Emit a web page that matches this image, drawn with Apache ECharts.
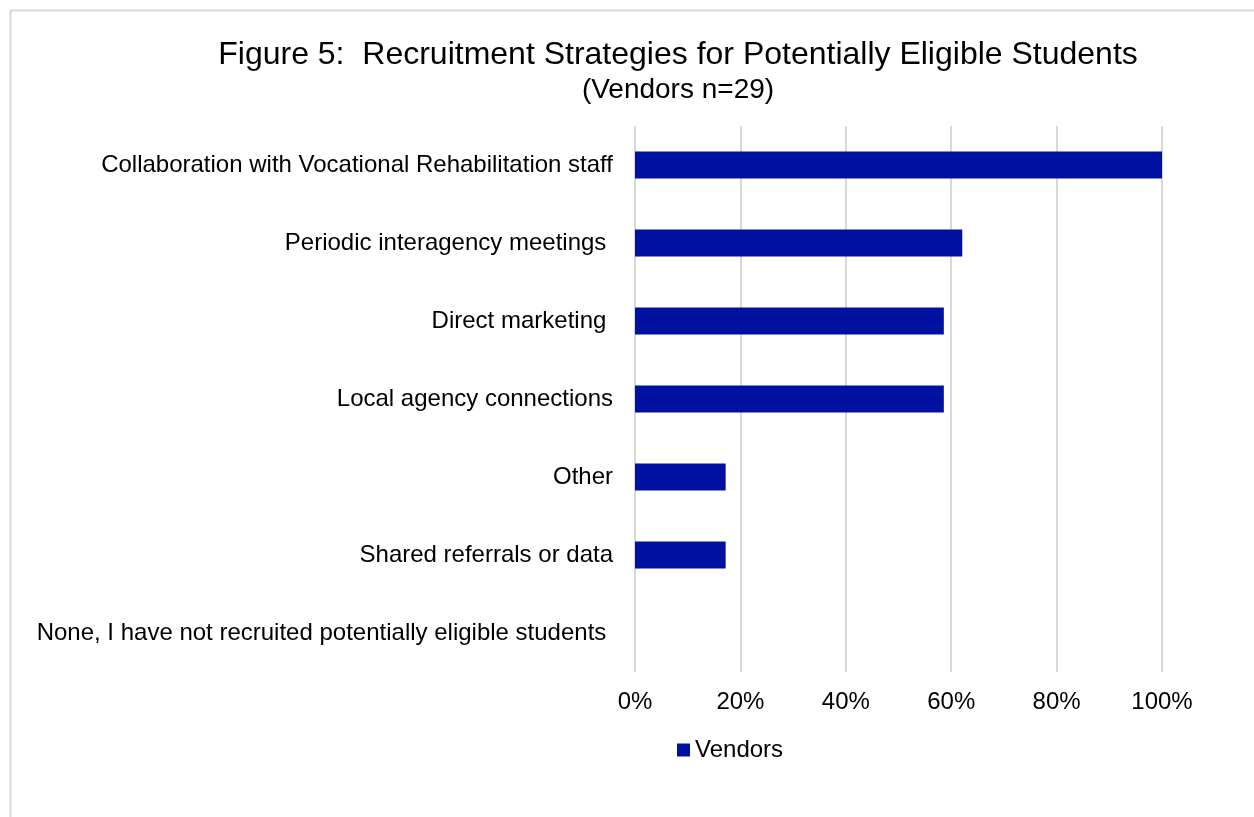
<!DOCTYPE html>
<html>
<head>
<meta charset="utf-8">
<script src="https://cdn.jsdelivr.net/npm/echarts@6/dist/echarts.min.js"></script>
<style>
  html, body { margin: 0; padding: 0; background: #fff; }
  #chart { width: 1254px; height: 817px; }
</style>
</head>
<body>
<div id="chart"></div>
<script>
// categories (top to bottom), trailing spaces kept as in the source labels
var categories = [
  'Collaboration with Vocational Rehabilitation staff',
  'Periodic interagency meetings ',
  'Direct marketing ',
  'Local agency connections',
  'Other',
  'Shared referrals or data',
  'None, I have not recruited potentially eligible students '
]
// share of vendors (n=29)
var vendors = [1.0, 0.621, 0.586, 0.586, 0.172, 0.172, 0]

var chart = echarts.init(document.getElementById('chart'))
var font = 'Liberation Sans, Arial, sans-serif'

chart.setOption({
  backgroundColor: '#fff',
  animation: false,
  // outer border of the chart area
  graphic: [{
    type: 'rect',
    shape: { x: 10.5, y: 10.5, width: 1300, height: 900 },
    style: { fill: 'none', stroke: '#d9d9d9', lineWidth: 2 },
    silent: true
  }],
  title: {
    text: 'Figure 5:  Recruitment Strategies for Potentially Eligible Students',
    subtext: '(Vendors n=29)',
    left: 673,
    top: 34,
    textAlign: 'center',
    itemGap: 5,
    textStyle: { fontFamily: font, fontSize: 32, fontWeight: 'normal', color: '#000' },
    subtextStyle: { fontFamily: font, fontSize: 28, color: '#000' }
  },
  legend: {
    data: ['Vendors'],
    left: 677,
    top: 738,
    padding: 0,
    icon: 'rect',
    itemWidth: 13,
    itemHeight: 13,
    textStyle: { fontFamily: font, fontSize: 24, color: '#000' }
  },
  grid: {
    left: 635,
    right: 92,
    top: 126,
    bottom: 145
  },
  xAxis: {
    type: 'value',
    min: 0,
    max: 1,
    interval: 0.2,
    axisLine: { show: false },
    axisTick: { show: false },
    splitLine: { lineStyle: { color: '#d9d9d9', width: 2 } },
    axisLabel: {
      margin: 18,
      fontFamily: font,
      fontSize: 24,
      color: '#000',
      formatter: function (v) { return Math.round(v * 100) + '%' }
    }
  },
  yAxis: {
    type: 'category',
    inverse: true,
    data: categories,
    axisLine: { show: false },
    axisTick: { show: false },
    axisLabel: {
      margin: 22,
      fontFamily: font,
      fontSize: 24,
      color: '#000'
    }
  },
  series: [{
    name: 'Vendors',
    type: 'bar',
    data: vendors,
    barWidth: 27,
    itemStyle: { color: '#0010a0' }
  }]
})
</script>
</body>
</html>
